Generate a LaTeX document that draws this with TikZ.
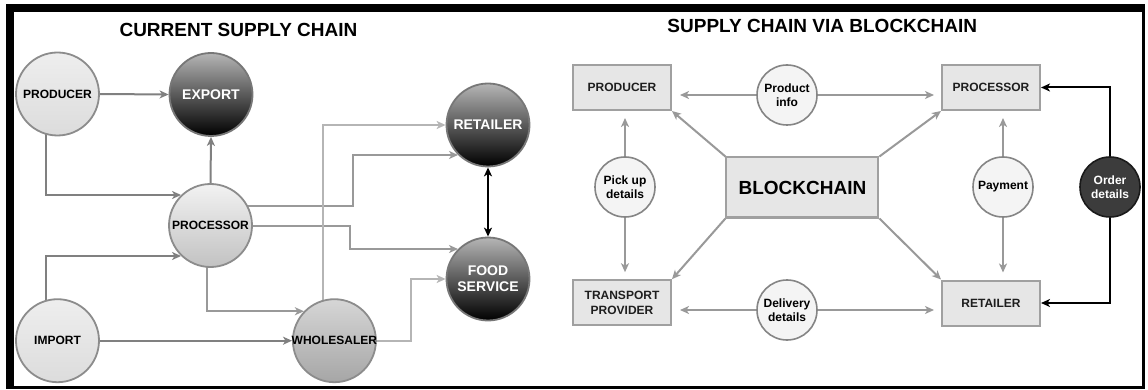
\documentclass[tikz,border=0pt]{standalone}
\usepackage{fontspec}
\setmainfont{Liberation Sans}
\usetikzlibrary{arrows.meta,calc}
\definecolor{edDark}{HTML}{808080}
\definecolor{edMid}{HTML}{999999}
\definecolor{edLight}{HTML}{B5B5B5}
\definecolor{cBorder}{HTML}{8C8C8C}
\definecolor{boxFill}{HTML}{E6E6E6}
\definecolor{boxBorder}{HTML}{A0A0A0}
\definecolor{rcFill}{HTML}{F4F4F4}
\definecolor{rcBorder}{HTML}{858585}
\definecolor{ordFill}{HTML}{3C3C3C}
\definecolor{ordBorder}{HTML}{1A1A1A}
\definecolor{plainTop}{HTML}{EEEEEE}
\definecolor{plainBot}{HTML}{DCDCDC}
\definecolor{dkBorder}{HTML}{777777}
\definecolor{dkTop}{HTML}{B5B5B5}
\definecolor{dkMid}{HTML}{5A5A5A}
\definecolor{pTop}{HTML}{F2F2F2}
\definecolor{pBot}{HTML}{C2C2C2}
\definecolor{wTop}{HTML}{D6D6D6}
\definecolor{wBot}{HTML}{A6A6A6}
\definecolor{boxText}{HTML}{1E1E1E}
\pgfdeclarelayer{bglayer}
\pgfdeclarelayer{edgelayer}
\pgfsetlayers{bglayer,edgelayer,main}
\begin{document}
\begin{tikzpicture}[x=1pt,y=-1pt,
  titlefont/.style={font=\bfseries\fontsize{19}{22}\selectfont},
  lcirc/.style={circle,minimum size=83pt,inner sep=0pt,line width=1.8pt,draw=cBorder,
    font=\bfseries\fontsize{12}{14}\selectfont,text=black},
  plainc/.style={lcirc,top color=plainTop,bottom color=plainBot},
  dk/.style={lcirc,draw=dkBorder,top color=dkTop,bottom color=black,middle color=dkMid,
    text=white,font=\bfseries\fontsize{14}{15.7}\selectfont,align=center},
  pcirc/.style={lcirc,top color=pTop,bottom color=pBot},
  wcirc/.style={lcirc,top color=wTop,bottom color=wBot},
  lbl/.style={font=\bfseries\fontsize{12}{14}\selectfont,text=black,inner sep=0pt},
  gline/.style={draw=#1,line width=2pt,-{Stealth[length=9pt,width=8pt,inset=2.5pt]}},
  bline/.style={draw=black,line width=2pt,{Stealth[length=9pt,width=8pt,inset=2.5pt]}-{Stealth[length=9pt,width=8pt,inset=2.5pt]}},
  bx/.style={rectangle,minimum width=98pt,minimum height=45pt,inner sep=0pt,fill=boxFill,draw=boxBorder,line width=2pt,
    font=\bfseries\fontsize{12}{15}\selectfont,text=boxText,align=center},
  bcb/.style={bx,minimum width=152pt,minimum height=60pt,font=\bfseries\fontsize{19}{22}\selectfont,text=black},
  rc/.style={circle,minimum size=60pt,inner sep=0pt,fill=rcFill,draw=rcBorder,line width=1.6pt,
    font=\bfseries\fontsize{12}{14.4}\selectfont,align=center},
  oc/.style={rc,fill=ordFill,draw=ordBorder,text=white},
  rarr/.style={draw=edMid,line width=2pt,-{Stealth[length=9pt,width=8pt,inset=2.5pt]}},
  oarr/.style={draw=black,line width=2pt,-{Stealth[length=9pt,width=8pt,inset=2.5pt]}}
]
\useasboundingbox (0,0) rectangle (1148,390);
\begin{pgfonlayer}{bglayer}
  \fill[black] (6,4) rectangle (1145,389);
  \fill[white] (14,12) rectangle (1142,386);
\end{pgfonlayer}

% titles
\node[titlefont] (t1) at (238.5,29.7) {CURRENT SUPPLY CHAIN};
\node[titlefont] (t2) at (822.3,26) {SUPPLY CHAIN VIA BLOCKCHAIN};

% left nodes
\node[plainc] (prod) at (57.5,94) {PRODUCER};
\node[dk] (exp) at (211,94.5) {EXPORT};
\node[dk] (ret) at (488,125) {RETAILER};
\node[pcirc] (proc) at (210.5,225.5) {PROCESSOR};
\node[dk] (food) at (488,279) {FOOD\\SERVICE};
\node[plainc] (imp) at (57.5,340.7) {IMPORT};
\node[wcirc] (whole) at (334.4,340.7) {};
\node[lbl] (wholelbl) at (whole.center) {WHOLESALER};

\coordinate (k1) at (353,0);
\coordinate (k2) at (350,0);
\coordinate (k3) at (411,0);

% right nodes
\node[bx] (rprod) at (622,87.5) {PRODUCER};
\node[bx] (rproc) at (991,87.5) {PROCESSOR};
\node[bx] (trans) at (622,302.7) {TRANSPORT\\PROVIDER};
\node[bx] (rret) at (991,303) {RETAILER};
\node[bcb] (bc) at (802.4,187.5) {BLOCKCHAIN};
\node[rc] (pinfo) at (787,95) {Product\\info};
\node[rc] (pick) at (625,187) {Pick up\\details};
\node[rc] (pay) at (1003,187) {Payment};
\node[rc] (del) at (787,310) {Delivery\\details};
\node[oc] (ord) at (1110,187) {Order\\details};

\begin{pgfonlayer}{edgelayer}
  % left connectors
  \draw[gline=edDark] (prod.east) -- (exp.west);
  \draw[gline=edDark] ($(prod.center)+(-11.5,0)$) |- (proc.134);
  \draw[gline=edDark] (proc.north) -- (exp.south);
  \draw[gline=edDark] ($(imp.center)+(-11.5,0)$) |- (proc.226);
  \draw[gline=edMid] ($(proc.center)+(-3.5,0)$) |- (whole.136);
  \draw[gline=edDark] (imp.east) -- (whole.west);
  \draw[gline=edMid] (proc.27) -- (proc.27 -| k1) -- (k1 |- ret.225) -- (ret.225);
  \draw[gline=edMid] (proc.east) -- (proc.east -| k2) -- (k2 |- food.135) -- (food.135);
  \draw[gline=edLight] ($(whole.center)+(-11.4,0)$) |- (ret.west);
  \draw[gline=edLight] (whole.east) -- (whole.east -| k3) -- (k3 |- food.west) -- (food.west);
  \draw[bline] (ret.south) -- (food.north);

  % right connectors
  \draw[rarr,shorten >=8pt] (pinfo.west) -- (pinfo.west -| rprod.east);
  \draw[rarr,shorten >=7pt] (pinfo.east) -- (pinfo.east -| rproc.west);
  \draw[rarr,shorten >=7pt] (pick.north) -- (pick.north |- rprod.south);
  \draw[rarr,shorten >=7pt] (pick.south) -- (pick.south |- trans.north);
  \draw[rarr,shorten >=7pt] (pay.north) -- (pay.north |- rproc.south);
  \draw[rarr,shorten >=7pt] (pay.south) -- (pay.south |- rret.north);
  \draw[rarr,shorten >=8pt] (del.west) -- (del.west -| trans.east);
  \draw[rarr,shorten >=7pt] (del.east) -- (del.east -| rret.west);
  \draw[rarr] (bc.north west) -- (rprod.south east);
  \draw[rarr] (bc.north east) -- (rproc.south west);
  \draw[rarr] (bc.south west) -- (trans.north east);
  \draw[rarr] (bc.south east) -- (rret.north west);
  \draw[oarr] (ord.north) |- (rproc.east);
  \draw[oarr] (ord.south) |- (rret.east);
\end{pgfonlayer}
\end{tikzpicture}
\end{document}
